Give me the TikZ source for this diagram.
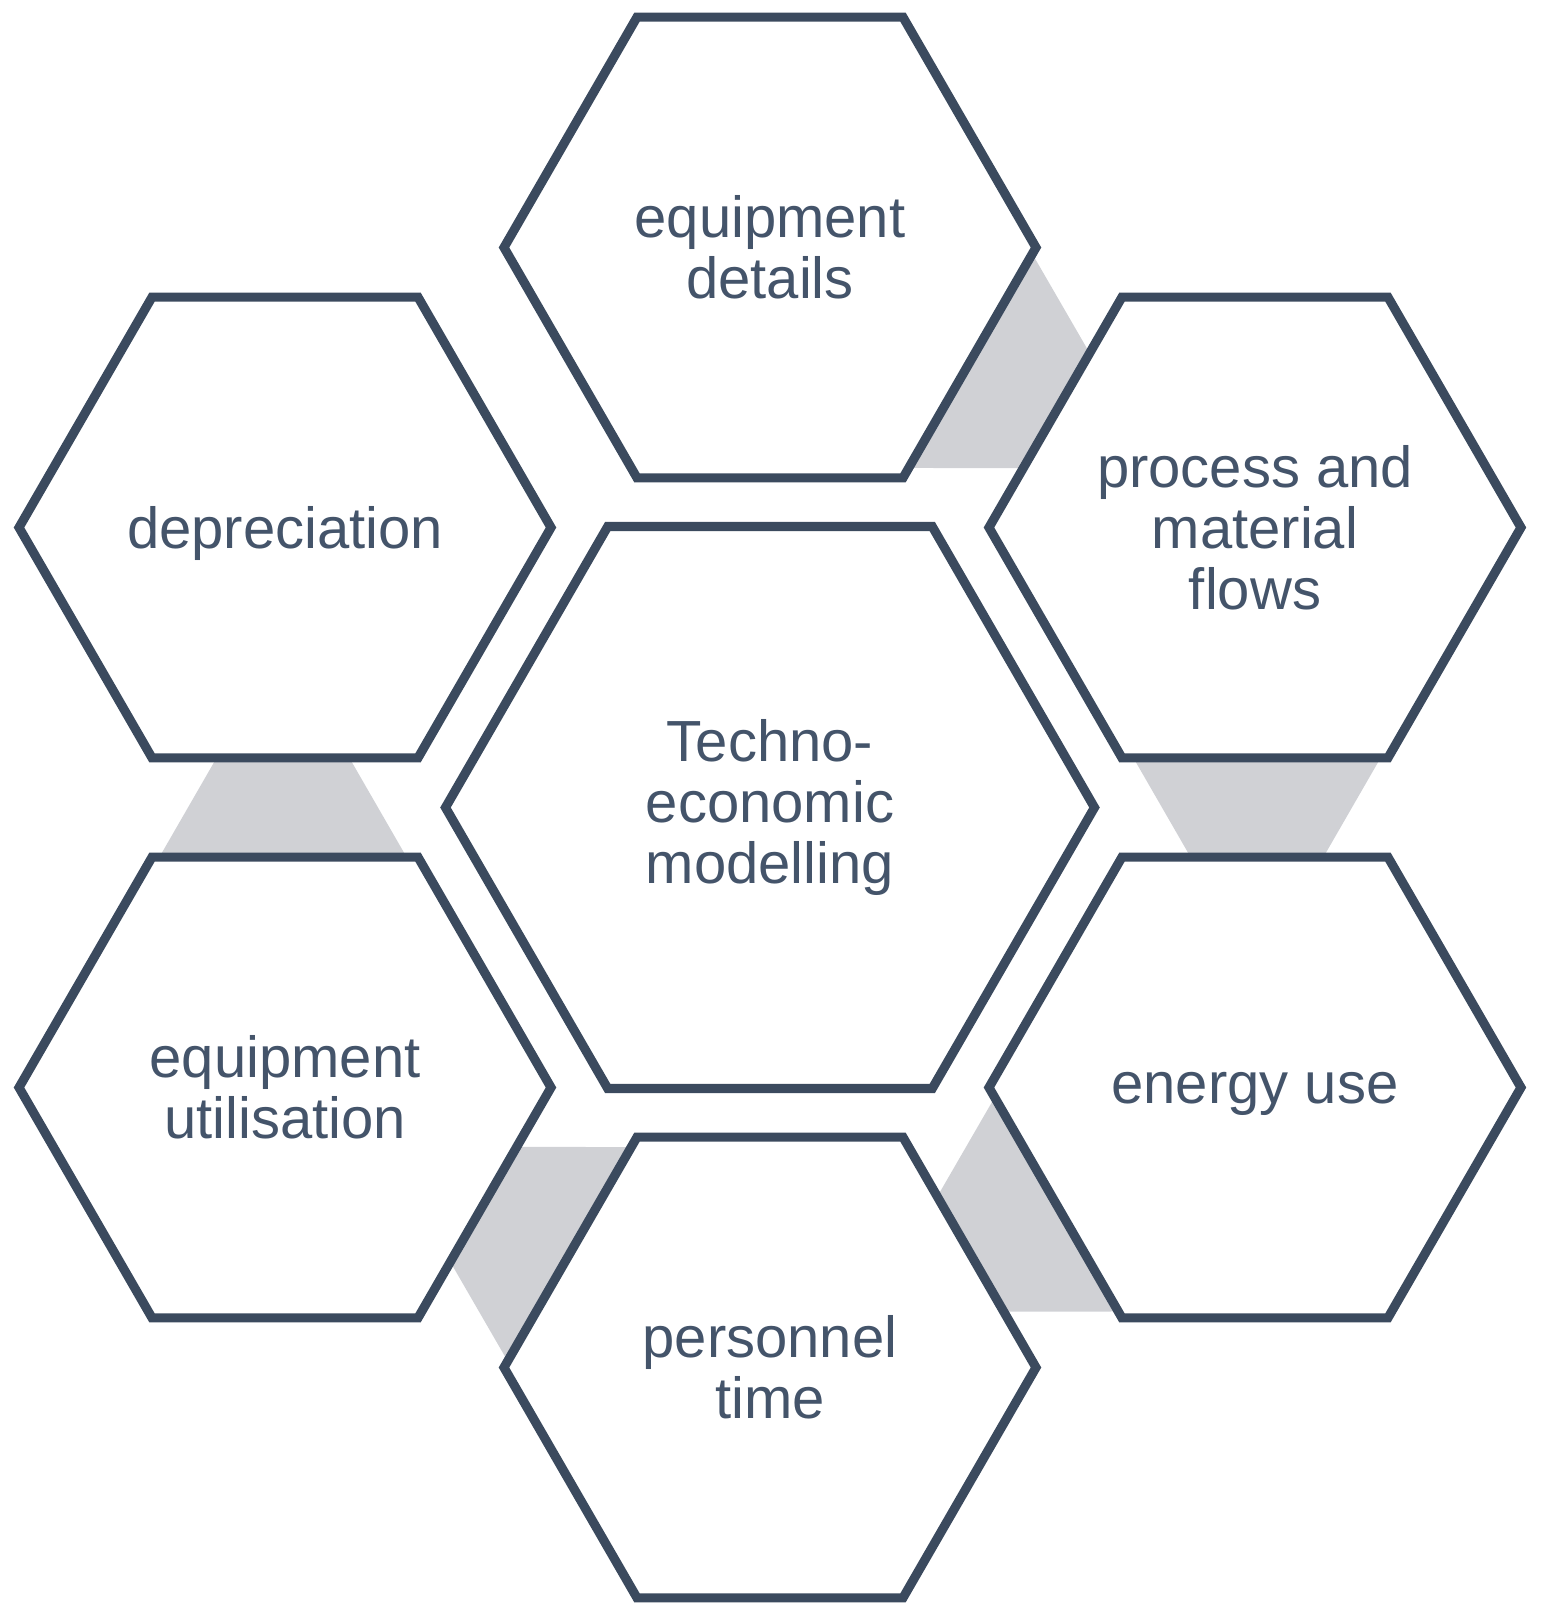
\documentclass[tikz,border=0pt]{standalone}
\usepackage{fontspec}
\setmainfont{Liberation Sans}
\usetikzlibrary{shapes.geometric}

\begin{document}
\begin{tikzpicture}[
  x=1cm,
  y=1cm,
  hexa/.style={regular polygon, regular polygon sides=6, draw=hexLine, fill=white, line width=2.6pt, inner sep=0pt, minimum size=5.32cm, align=center, text=hexText, font=\fontsize{16.5}{17.4}\selectfont,},
  hexaOne/.style={hexa, text depth=0pt},
  hexaBig/.style={hexa, minimum size=6.49cm}
]

% Slate outline, slate text, light grey links
\definecolor{hexLine}{HTML}{3B4A5E}
\definecolor{hexText}{HTML}{44546A}
\definecolor{linkGray}{HTML}{D0D1D5}

% Page frame
\useasboundingbox (-7.70,-8.105) rectangle (7.71,8.075);

% Grey links between neighbouring hexagons (none on the top left)
\foreach \a in {0,60,180,240,300} {
  \fill[linkGray, rotate=\a] (3.603,0.55) -- (6.137,0.55) -- (5.503,-0.55) -- (4.237,-0.55) -- cycle;
}

% Core hexagon
\node[hexaBig] (core) at (0,0) {Techno-\\economic\\modelling};

% Ring of six hexagons around the core
\node[hexa] (equip) at (90:5.6) {equipment\\details};
\node[hexa] (flows) at (30:5.6) {process and\\material\\flows};
\node[hexaOne] (energy) at (-30:5.6) {energy use};
\node[hexa] (staff) at (-90:5.6) {personnel\\time};
\node[hexa] (usage) at (-150:5.6) {equipment\\utilisation};
\node[hexaOne] (deprec) at (150:5.6) {depreciation};

\end{tikzpicture}
\end{document}
